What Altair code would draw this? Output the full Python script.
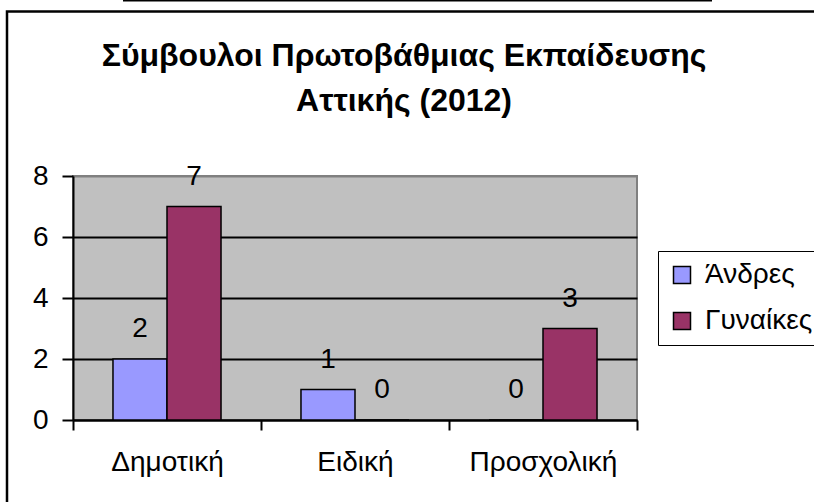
import altair as alt
import pandas as pd

# Advisors by level of education and gender
categories = ["Δημοτική", "Ειδική", "Προσχολική"]
series = ["Άνδρες", "Γυναίκες"]
men = [2, 1, 0]
women = [7, 0, 3]
colors = ["#9999FF", "#993366"]
title_lines = ["Σύμβουλοι Πρωτοβάθμιας Εκπαίδευσης", "Αττικής (2012)"]

rows = []
for i, c in enumerate(categories):
    rows.append({"cat": c, "series": series[0], "value": men[i]})
    rows.append({"cat": c, "series": series[1], "value": women[i]})
df = pd.DataFrame(rows)

FONT = "Liberation Sans"
FS = 28

base = alt.Chart(df).encode(
    x=alt.X("cat:N", sort=categories, title=None,
            scale=alt.Scale(paddingInner=0, paddingOuter=0),
            axis=alt.Axis(labelAngle=0, tickBand="extent", domainColor="black",
                          tickColor="black", tickSize=10, domainWidth=2, tickWidth=2,
                          labelFont=FONT, labelFontSize=FS, labelColor="black",
                          labelPadding=18, grid=False)),
    xOffset=alt.XOffset("series:N", sort=series,
                        scale=alt.Scale(paddingOuter=0.74, paddingInner=0)),
)

bars = base.mark_bar(stroke="black", strokeWidth=1.5).encode(
    y=alt.Y("value:Q", title=None,
            scale=alt.Scale(domain=[0, 8]),
            axis=alt.Axis(values=[0, 2, 4, 6, 8], domainColor="black", domainWidth=2,
                          tickColor="black", tickSize=11, tickWidth=2,
                          labelFont=FONT, labelFontSize=FS, labelColor="black",
                          labelPadding=14, grid=True, gridWidth=2,
                          gridColor=alt.condition("datum.value == 8",
                                                  alt.value("#808080"),
                                                  alt.value("black")))),
    color=alt.Color("series:N", sort=series,
                    scale=alt.Scale(domain=series, range=colors),
                    legend=alt.Legend(title=None, orient="none", legendX=585, legendY=75,
                                      strokeColor="black", padding=10,
                                      symbolType="square", symbolSize=289,
                                      symbolStrokeColor="black", symbolStrokeWidth=1.5,
                                      symbolOpacity=1, labelOffset=9,
                                      labelFont=FONT, labelFontSize=FS,
                                      labelColor="black", rowPadding=18)),
)

labels = base.mark_text(font=FONT, fontSize=FS, color="black",
                        baseline="middle", dy=-30).encode(
    y=alt.Y("value:Q"),
    text=alt.Text("value:Q"),
)

# outer chart border and the rule above it
frame = alt.Chart(alt.Data(values=[{}])).mark_rect(
    fill=None, stroke="black", strokeWidth=2.5
).encode(
    x=alt.value(-66), x2=alt.value(750),
    y=alt.value(-164.5), y2=alt.value(340),
)

top_rule = alt.Chart(alt.Data(values=[{}])).mark_rule(
    color="black", strokeWidth=2
).encode(
    x=alt.value(50), x2=alt.value(639), y=alt.value(-175.5),
)

chart = alt.layer(frame, top_rule, bars, labels).properties(
    width=564,
    height=244,
    padding={"left": 73, "top": 176, "right": 177, "bottom": 82},
    autosize=alt.AutoSizeParams(type="none"),
    title=alt.TitleParams(title_lines, font=FONT, fontSize=32, fontWeight="bold",
                          color="black", anchor="middle", dx=49, offset=0, dy=118,
                          lineHeight=45),
    background="white",
).configure_view(
    fill="#C0C0C0", stroke="#808080", strokeWidth=2
)

chart.save("out.html", embed_options={"renderer": "svg", "actions": False})
